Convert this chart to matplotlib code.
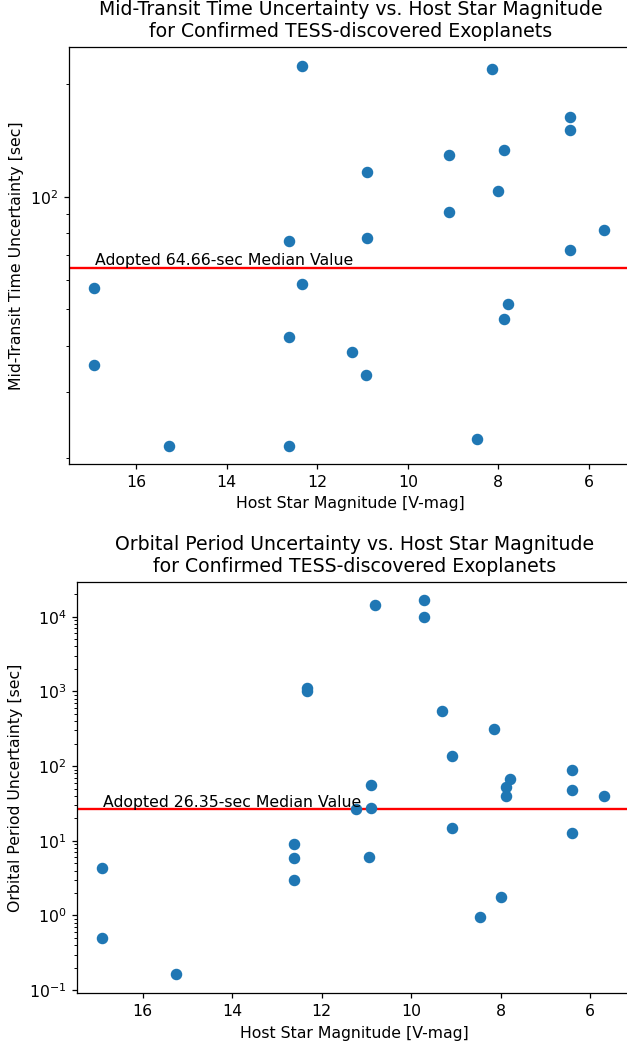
import matplotlib
matplotlib.use("Agg")
import matplotlib.pyplot as plt
from matplotlib.ticker import NullFormatter

# Top panel: mid-transit time uncertainty
mag_tt = [12.33, 8.15, 6.41, 6.41, 7.87, 9.10, 10.90, 8.00, 9.10, 5.67, 12.63, 10.90,
          6.41, 16.92, 12.33, 7.79, 7.87, 12.63, 11.23, 16.92, 10.93, 15.27, 12.63, 8.47]
unc_tt = [223.7, 219.0, 163.4, 151.1, 133.3, 129.0, 116.2, 103.4, 91.2, 81.3, 76.3, 77.5,
          72.0, 57.0, 58.3, 51.7, 47.0, 42.2, 38.4, 35.4, 33.3, 21.6, 21.6, 22.5]
median_tt = 64.66

# Bottom panel: orbital period uncertainty
mag_per = [10.80, 9.72, 9.72, 12.33, 12.33, 9.30, 8.15, 9.09, 6.41, 7.78, 7.87, 7.87,
           6.41, 5.68, 10.90, 11.23, 10.90, 9.09, 6.41, 12.62, 12.62, 10.93, 12.62,
           16.90, 8.00, 8.47, 16.90, 15.26]
unc_per = [14500, 16560, 9900, 1122, 1012, 547, 317, 136, 89.6, 67.9, 52.5, 40.2,
           48.3, 39.4, 56.4, 26.4, 27.2, 14.7, 12.9, 8.98, 5.83, 6.0, 3.02,
           4.33, 1.77, 0.945, 0.50, 0.163]
median_per = 26.35

title_tt = "Mid-Transit Time Uncertainty vs. Host Star Magnitude\nfor Confirmed TESS-discovered Exoplanets"
title_per = "Orbital Period Uncertainty vs. Host Star Magnitude\nfor Confirmed TESS-discovered Exoplanets"
ylabel_tt = "Mid-Transit Time Uncertainty [sec]"
ylabel_per = "Orbital Period Uncertainty [sec]"
xlabel = "Host Star Magnitude [V-mag]"

plt.rcParams['font.family'] = ['DejaVu Sans']
W, H = 627, 1044
DPI = 113
fig = plt.figure(figsize=(W / DPI, H / DPI), dpi=DPI)

blue = '#1f77b4'

# top axes
ax1 = fig.add_axes([69 / W, 1 - 464 / H, (632 - 69) / W, (464 - 46.5) / H])
ax1.scatter(mag_tt, unc_tt, s=40, color=blue, zorder=3)
ax1.axhline(median_tt, color='red', lw=1.5, zorder=2)
ax1.annotate(f"Adopted {median_tt:.2f}-sec Median Value", xy=(16.90, median_tt),
             xytext=(0, 1.7), textcoords='offset points', fontsize=10, va='baseline')
ax1.set_yscale('log')
ax1.set_xlim(17.479, 6 - (632 - 589) / 45.3)
ax1.set_ylim(19.3, 252)
ax1.yaxis.set_minor_formatter(NullFormatter())
ax1.set_xticks([16, 14, 12, 10, 8, 6])
ax1.set_title(title_tt, fontsize=12)
ax1.set_ylabel(ylabel_tt, fontsize=10)
ax1.set_xlabel(xlabel, fontsize=10)
ax1.spines['right'].set_visible(False)

# bottom axes
ax2 = fig.add_axes([77.3 / W, 1 - 993.3 / H, (632 - 77.3) / W, (993.3 - 581.7) / H])
ax2.scatter(mag_per, unc_per, s=40, color=blue, zorder=3)
ax2.axhline(median_per, color='red', lw=1.5, zorder=2)
ax2.annotate(f"Adopted {median_per:.2f}-sec Median Value", xy=(16.89, median_per),
             xytext=(0, 1.7), textcoords='offset points', fontsize=10, va='baseline')
ax2.set_yscale('log')
ax2.set_xlim(17.462, 6 - (632 - 590) / 44.73)
ax2.set_ylim(10 ** -1.042, 10 ** 4.469)
ax2.set_xticks([16, 14, 12, 10, 8, 6])
ax2.set_title(title_per, fontsize=12)
ax2.set_ylabel(ylabel_per, fontsize=10)
ax2.set_xlabel(xlabel, fontsize=10)
ax2.spines['right'].set_visible(False)

fig.savefig("out.png", dpi=DPI)
